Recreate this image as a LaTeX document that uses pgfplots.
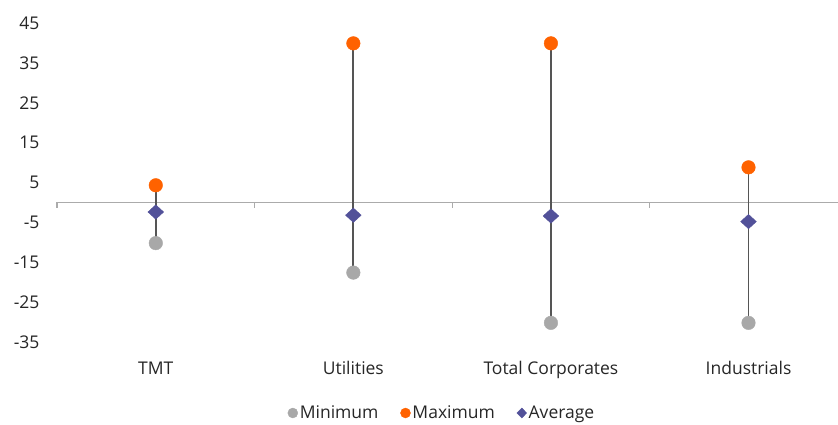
\documentclass[border=0pt]{standalone}
\usepackage{pgfplots}
\pgfplotsset{compat=1.18}
\usepackage{fontspec}
\setmainfont{Open Sans}
\definecolor{ingorange}{HTML}{FF6200}
\definecolor{mingrey}{HTML}{A8A8A8}
\definecolor{avgpurple}{HTML}{525199}
\definecolor{rangeline}{HTML}{555555}
\definecolor{zeroline}{HTML}{ABABAB}
\begin{document}
\begin{tikzpicture}
\path[use as bounding box] (0,0) rectangle (838pt,425pt);
\begin{axis}[
  at={(57pt,83pt)}, anchor=south west,
  scale only axis, width=781pt, height=319pt,
  xmin=-0.5, xmax=3.453, ymin=-35, ymax=45,
  axis x line*=bottom, axis y line*=left,
  x axis line style={draw=none}, y axis line style={draw=none},
  xtick={0,1,2,3},
  xticklabels={TMT,Utilities,Total Corporates,Industrials},
  ytick={-35,-25,-15,-5,5,15,25,35,45},
  major tick length=0pt,
  tick label style={font=\fontsize{17.5}{21}\selectfont, text=black!85},
  xticklabel style={yshift=-16pt},
  yticklabel style={xshift=-14pt},
  /pgf/number format/assume math mode=true,
  clip=false,
  unbounded coords=jump,
  legend columns=3,
  legend style={at={(0.493,-0.2226)}, anchor=center, draw=none, fill=none,
    font=\fontsize{17.5}{21}\selectfont, text=black!85,
    /tikz/every even column/.append style={column sep=20pt}},
  legend cell align=left,
]
% zero line and separators
\addplot[zeroline, line width=1.5pt, forget plot] coordinates {(-0.5,0) (3.453,0)};
\addplot[zeroline, line width=1.2pt, forget plot] coordinates {(-0.5,0) (-0.5,-1.4)};
\addplot[zeroline, line width=1.2pt, forget plot] coordinates {(0.5,0) (0.5,-1.4)};
\addplot[zeroline, line width=1.2pt, forget plot] coordinates {(1.5,0) (1.5,-1.4)};
\addplot[zeroline, line width=1.2pt, forget plot] coordinates {(2.5,0) (2.5,-1.4)};
% range lines
\addplot[rangeline, line width=1.8pt, forget plot] coordinates {
 (0,-10.2) (0,4.3)
 (0,nan)
 (1,-17.6) (1,39.9)
 (1,nan)
 (2,-30.2) (2,39.9)
 (2,nan)
 (3,-30.2) (3,8.8)
};
\addplot[only marks, mark=*, mark size=6.8pt, color=mingrey, forget plot] coordinates {
 (0,-10.2) (1,-17.6) (2,-30.2) (3,-30.2)};
\addplot[only marks, mark=*, mark size=6.8pt, color=ingorange, forget plot] coordinates {
 (0,4.3) (1,39.9) (2,39.9) (3,8.8)};
\addplot[only marks, mark=diamond*, mark size=7.2pt, color=avgpurple, mark options={xscale=1.45}, forget plot] coordinates {
 (0,-2.4) (1,-3.2) (2,-3.4) (3,-4.8)};
\addlegendimage{only marks, mark=*, mark size=5pt, color=mingrey}
\addlegendentry{Minimum}
\addlegendimage{only marks, mark=*, mark size=5pt, color=ingorange}
\addlegendentry{Maximum}
\addlegendimage{only marks, mark=diamond*, mark size=5pt, color=avgpurple, mark options={xscale=1.3}}
\addlegendentry{Average}
\end{axis}
\end{tikzpicture}
\end{document}
